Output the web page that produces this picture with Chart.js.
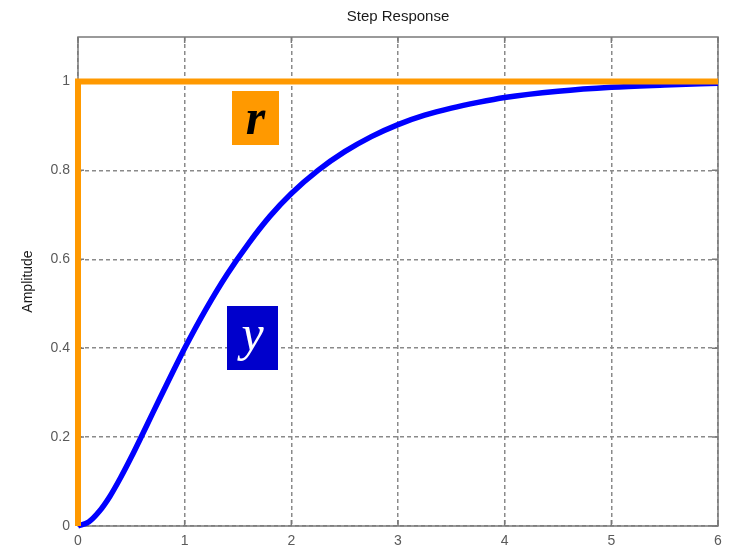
<!DOCTYPE html>
<html>
<head>
<meta charset="utf-8">
<style>
  html, body { margin: 0; padding: 0; background: #ffffff; }
  #wrap { width: 732px; height: 546px; }
</style>
<script src="https://cdn.jsdelivr.net/npm/chart.js@4/dist/chart.umd.min.js"></script>
</head>
<body>
<div id="wrap"><canvas id="step" width="732" height="546"></canvas></div>
<script>
// Step response y(t) of the closed loop
const timeSec = [0, 0.1, 0.2, 0.3, 0.4, 0.5, 0.6, 0.7, 0.8, 0.9, 1, 1.2, 1.4, 1.6, 1.8, 2, 2.25, 2.5, 2.75, 3, 3.25, 3.5, 3.75, 4, 4.5, 5, 5.5, 6];
const amplitude = [0, 0.009, 0.033, 0.067, 0.109, 0.155, 0.204, 0.254, 0.303, 0.352, 0.400, 0.488, 0.567, 0.636, 0.697, 0.748, 0.800, 0.842, 0.876, 0.903, 0.924, 0.940, 0.953, 0.964, 0.978, 0.987, 0.992, 0.996];

// Reference input r(t): unit step at t = 0
const refTime = [0, 0, 6];
const refValue = [0, 1, 1];

// Axis ticks
const xTicks = [0, 1, 2, 3, 4, 5, 6];
const yTicks = [0, 0.2, 0.4, 0.6, 0.8, 1];

// Signal tags placed at data positions
const tags = [
  { text: 'r', t: 1.664, a: 0.917, w: 47, h: 54, fill: '#ff9900', color: '#000000', bold: true, dy: 16 },
  { text: 'y', t: 1.636, a: 0.424, w: 51, h: 64, fill: '#0000cc', color: '#ffffff', bold: false, dy: 12 }
];

const toPoints = (xs, ys) => xs.map((x, i) => ({ x: x, y: ys[i] }));

const frameColor = '#7a7a7a';

const framePlugin = {
  id: 'frame',
  beforeDatasetsDraw(chart) {
    const { ctx, chartArea: a, scales } = chart;
    ctx.save();
    ctx.strokeStyle = frameColor;
    ctx.lineWidth = 1.5;
    ctx.setLineDash([]);
    ctx.strokeRect(a.left, a.top, a.right - a.left, a.bottom - a.top);
    // inward tick marks on all four sides
    const len = 6;
    ctx.beginPath();
    scales.x.ticks.forEach(t => {
      const px = scales.x.getPixelForValue(t.value);
      ctx.moveTo(px, a.bottom); ctx.lineTo(px, a.bottom - len);
      ctx.moveTo(px, a.top); ctx.lineTo(px, a.top + len);
    });
    scales.y.ticks.forEach(t => {
      const py = scales.y.getPixelForValue(t.value);
      ctx.moveTo(a.left, py); ctx.lineTo(a.left + len, py);
      ctx.moveTo(a.right, py); ctx.lineTo(a.right - len, py);
    });
    ctx.stroke();
    ctx.restore();
  },
  afterDraw(chart) {
    const { ctx, chartArea: a, scales } = chart;
    ctx.save();
    // title
    ctx.fillStyle = '#1a1a1a';
    ctx.font = '15px "Liberation Sans", Arial, sans-serif';
    ctx.textAlign = 'center';
    ctx.textBaseline = 'middle';
    ctx.fillText('Step Response', (a.left + a.right) / 2, 17);
    // signal tags
    tags.forEach(tag => {
      const cx = scales.x.getPixelForValue(tag.t);
      const cy = scales.y.getPixelForValue(tag.a);
      ctx.fillStyle = tag.fill;
      ctx.fillRect(Math.round(cx - tag.w / 2), Math.round(cy - tag.h / 2), tag.w, tag.h);
      ctx.fillStyle = tag.color;
      ctx.font = (tag.bold ? 'italic bold ' : 'italic ') + '50px "Liberation Serif", "DejaVu Serif", serif';
      ctx.textAlign = 'center';
      ctx.textBaseline = 'alphabetic';
      ctx.fillText(tag.text, cx, cy + tag.dy);
    });
    ctx.restore();
  }
};

new Chart(document.getElementById('step'), {
  type: 'line',
  data: {
    datasets: [
      {
        label: 'r',
        data: toPoints(refTime, refValue),
        borderColor: '#ff9900',
        borderWidth: 6,
        pointRadius: 0,
        tension: 0,
        clip: false,
        order: 0
      },
      {
        label: 'y',
        data: toPoints(timeSec, amplitude),
        borderColor: '#0000ff',
        borderWidth: 5.5,
        pointRadius: 0,
        cubicInterpolationMode: 'monotone',
        borderJoinStyle: 'round',
        borderCapStyle: 'butt',
        clip: false,
        order: 1
      }
    ]
  },
  options: {
    responsive: false,
    animation: false,
    events: [],
    layout: { padding: { top: 37, right: 14, left: 0, bottom: 0 } },
    plugins: { legend: { display: false }, tooltip: { enabled: false }, title: { display: false } },
    scales: {
      x: {
        type: 'linear',
        min: 0,
        max: 6,
        afterBuildTicks: s => { s.ticks = xTicks.map(v => ({ value: v })); },
        afterFit: s => { s.height = 20; },
        grid: { color: '#8a8a8a', lineWidth: 1.5, drawTicks: false },
        border: { display: false, dash: [4, 3] },
        ticks: {
          color: '#5a5a5a',
          padding: 7,
          maxRotation: 0,
          font: { size: 14, family: '"Liberation Sans", Arial, sans-serif' },
          callback: v => String(v)
        }
      },
      y: {
        type: 'linear',
        min: 0,
        max: 1.1,
        afterBuildTicks: s => { s.ticks = yTicks.map(v => ({ value: v })); },
        afterFit: s => { s.width = 78; },
        grid: { color: '#8a8a8a', lineWidth: 1.5, drawTicks: false },
        border: { display: false, dash: [4, 3] },
        title: {
          display: true,
          text: 'Amplitude',
          color: '#1a1a1a',
          padding: { top: 20, bottom: 0 },
          font: { size: 14, family: '"Liberation Sans", Arial, sans-serif' }
        },
        ticks: {
          color: '#5a5a5a',
          padding: 8,
          font: { size: 14, family: '"Liberation Sans", Arial, sans-serif' },
          callback: v => String(+Number(v).toFixed(1))
        }
      }
    }
  },
  plugins: [framePlugin]
});
</script>
</body>
</html>
